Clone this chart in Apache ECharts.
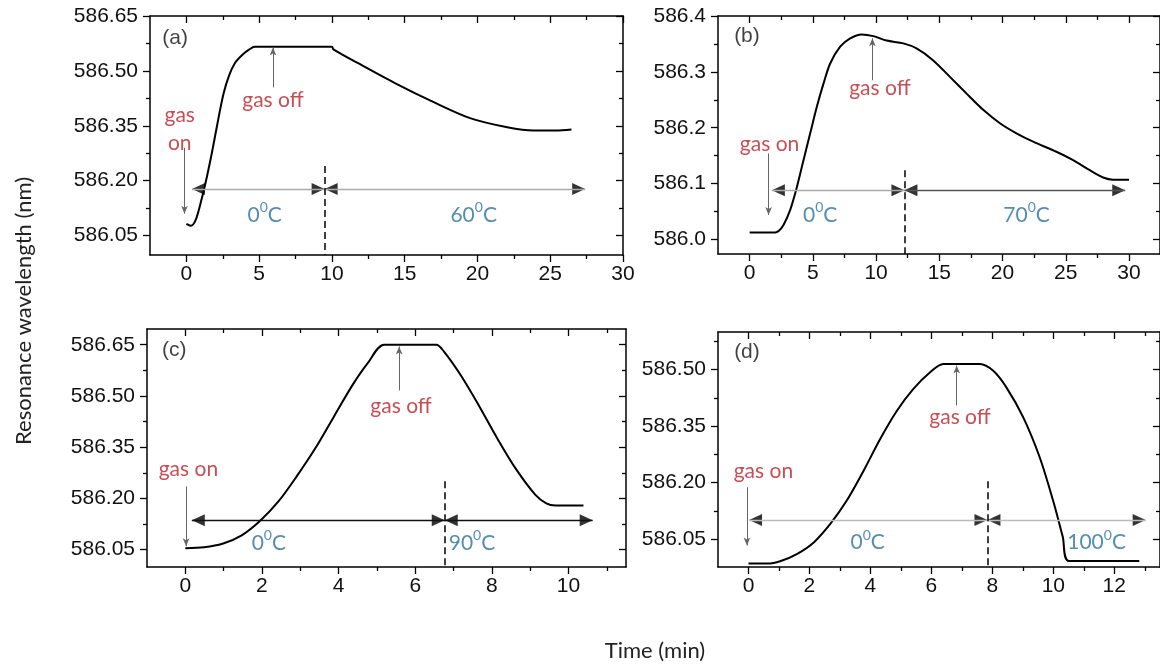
<!DOCTYPE html>
<html>
<head>
<meta charset="utf-8">
<script src="https://cdn.jsdelivr.net/npm/echarts@6/dist/echarts.min.js"></script>
<style>
html,body{margin:0;padding:0;background:#fff;}
#chart{width:1160px;height:666px;}
</style>
</head>
<body>
<div id="chart"></div>
<script>
// ---------- Panel (a) ----------
const aTime = [0, 0.3, 0.64, 1.03, 1.41, 1.79, 2.18, 2.56, 2.95, 3.33, 3.85, 4.3, 4.7, 10.0, 10.1, 11.8, 14.36, 16.92, 19.49, 22.05, 23.85, 25.4, 26.46];
const aWave = [586.082, 586.077, 586.093, 586.147, 586.211, 586.284, 586.366, 586.439, 586.489, 586.521, 586.544, 586.558, 586.566, 586.566, 586.559, 586.521, 586.466, 586.416, 586.371, 586.346, 586.337, 586.337, 586.34];
const aXTicks = [0, 5, 10, 15, 20, 25, 30];
const aXMinor = [2.5, 7.5, 12.5, 17.5, 22.5, 27.5];
const aYTicks = [586.05, 586.20, 586.35, 586.50, 586.65];
const aYMinor = [586.125, 586.275, 586.425, 586.575];
const aRedText = ['gas\non', 'gas off'];
const aRedX = [-0.46, 5.95];
const aRedY = [586.341, 586.42];
const aTempText = ['0', '60'];
const aTempX = [5.38, 19.74];
const aTempY = [586.111, 586.111];
const aOnArrow = [-0.13, 586.29, 586.11];
const aOffArrow = [5.95, 586.455, 586.564];
const aSpanX = [0.38, 9.5, 27.4];
const aSpanY = 586.1775;
const aDashTop = 586.24;

// ---------- Panel (b) ----------
const bTime = [0, 2.03, 2.29, 2.68, 3.21, 3.74, 4.26, 4.79, 5.32, 5.84, 6.37, 7.16, 7.95, 8.87, 9.79, 10.84, 12.16, 13.2, 14.5, 15.84, 17.16, 18.47, 19.79, 21.1, 22.42, 24.26, 25.58, 26.9, 27.95, 28.74, 30];
const bWave = [586.0125, 586.0125, 586.015, 586.026, 586.053, 586.094, 586.142, 586.19, 586.238, 586.279, 586.315, 586.345, 586.36, 586.367, 586.364, 586.356, 586.351, 586.342, 586.321, 586.291, 586.261, 586.232, 586.208, 586.19, 586.175, 586.157, 586.142, 586.124, 586.111, 586.107, 586.107];
const bXTicks = [0, 5, 10, 15, 20, 25, 30];
const bXMinor = [2.5, 7.5, 12.5, 17.5, 22.5, 27.5];
const bYTicks = [586.0, 586.1, 586.2, 586.3, 586.4];
const bYMinor = [586.05, 586.15, 586.25, 586.35];
const bRedText = ['gas on', 'gas off'];
const bRedX = [1.58, 10.3];
const bRedY = [586.171, 586.27];
const bTempText = ['0', '70'];
const bTempX = [5.58, 21.9];
const bTempY = [586.047, 586.047];
const bOnArrow = [1.5, 586.154, 586.044];
const bOffArrow = [9.71, 586.285, 586.36];
const bSpanX = [1.76, 12.24, 29.7];
const bSpanY = 586.088;
const bDashTop = 586.124;

// ---------- Panel (c) ----------
const cTime = [0, 0.49, 0.97, 1.46, 1.94, 2.43, 2.91, 3.40, 3.88, 4.37, 4.76, 5.19, 6.55, 6.75, 7.18, 7.67, 8.16, 8.64, 9.13, 9.42, 9.66, 10.39];
const cWave = [586.054, 586.057, 586.067, 586.091, 586.133, 586.191, 586.265, 586.348, 586.44, 586.533, 586.596, 586.65, 586.65, 586.63, 586.562, 586.47, 586.372, 586.284, 586.211, 586.185, 586.179, 586.179];
const cXTicks = [0, 2, 4, 6, 8, 10];
const cXMinor = [1, 3, 5, 7, 9, 11];
const cYTicks = [586.05, 586.20, 586.35, 586.50, 586.65];
const cYMinor = [586.125, 586.275, 586.425, 586.575];
const cRedText = ['gas on', 'gas off'];
const cRedX = [0.08, 5.63];
const cRedY = [586.284, 586.471];
const cTempText = ['0', '90'];
const cTempX = [2.18, 7.48];
const cTempY = [586.074, 586.074];
const cOnArrow = [0.02, 586.235, 586.06];
const cOffArrow = [5.58, 586.516, 586.645];
const cSpanX = [0.17, 6.77, 10.63];
const cSpanY = 586.136;
const cDashTop = 586.25;

// ---------- Panel (d) ----------
const dTime = [0, 0.62, 1.06, 1.6, 2.15, 2.69, 3.23, 3.78, 4.32, 4.87, 5.41, 5.96, 6.39, 7.59, 8.03, 8.46, 9.01, 9.55, 9.99, 10.31, 10.51, 12.82];
const dWave = [585.985, 585.985, 585.992, 586.011, 586.042, 586.091, 586.153, 586.232, 586.316, 586.391, 586.449, 586.493, 586.515, 586.515, 586.497, 586.453, 586.374, 586.268, 586.153, 586.056, 585.992, 585.992];
const dXTicks = [0, 2, 4, 6, 8, 10, 12];
const dXMinor = [1, 3, 5, 7, 9, 11, 13];
const dYTicks = [586.05, 586.20, 586.35, 586.50];
const dYMinor = [586.125, 586.275, 586.425, 586.575];
const dRedText = ['gas on', 'gas off'];
const dRedX = [0.49, 6.94];
const dRedY = [586.229, 586.374];
const dTempText = ['0', '100'];
const dTempX = [3.91, 11.42];
const dTempY = [586.046, 586.046];
const dOnArrow = [-0.05, 586.188, 586.033];
const dOffArrow = [6.83, 586.405, 586.511];
const dSpanX = [0.02, 7.84, 13.03];
const dSpanY = 586.101;
const dDashTop = 586.204;

const panelLetters = ['(a)', '(b)', '(c)', '(d)'];
const letterX = [-0.77, -0.21, -0.29, -0.05];
const letterY = [586.589, 586.363, 586.635, 586.546];

const RED = '#b8222b';
const TEAL = '#2a719b';
const NUMFONT = 'Liberation Sans, Arial, sans-serif';
const TXTFONT = 'Lato, sans-serif';

const panels = [
  {time:aTime, wave:aWave, xT:aXTicks, xM:aXMinor, yT:aYTicks, yM:aYMinor, xMin:-2.5, xMax:30, yMin:585.997, yMax:586.65, yDec:2,
   grid:{left:150, top:16, width:473, height:239}, red:[aRedText,aRedX,aRedY], temp:[aTempText,aTempX,aTempY],
   on:aOnArrow, off:aOffArrow, spanX:aSpanX, spanY:aSpanY, dashTop:aDashTop, spanColors:['#aaaaaa','#aaaaaa']},
  {time:bTime, wave:bWave, xT:bXTicks, xM:bXMinor, yT:bYTicks, yM:bYMinor, xMin:-2.5, xMax:32.45, yMin:585.974, yMax:586.4, yDec:1,
   grid:{left:718, top:16, width:443, height:238}, red:[bRedText,bRedX,bRedY], temp:[bTempText,bTempX,bTempY],
   on:bOnArrow, off:bOffArrow, spanX:bSpanX, spanY:bSpanY, dashTop:bDashTop, spanColors:['#aaaaaa','#555555']},
  {time:cTime, wave:cWave, xT:cXTicks, xM:cXMinor, yT:cYTicks, yM:cYMinor, xMin:-1, xMax:11.5, yMin:585.999, yMax:586.696, yDec:2,
   grid:{left:147, top:329, width:479, height:238}, red:[cRedText,cRedX,cRedY], temp:[cTempText,cTempX,cTempY],
   on:cOnArrow, off:cOffArrow, spanX:cSpanX, spanY:cSpanY, dashTop:cDashTop, spanColors:['#111111','#111111']},
  {time:dTime, wave:dWave, xT:dXTicks, xM:dXMinor, yT:dYTicks, yM:dYMinor, xMin:-1, xMax:13.5, yMin:585.976, yMax:586.6, yDec:2,
   grid:{left:718, top:332, width:443, height:235}, red:[dRedText,dRedX,dRedY], temp:[dTempText,dTempX,dTempY],
   on:dOnArrow, off:dOffArrow, spanX:dSpanX, spanY:dSpanY, dashTop:dDashTop, spanColors:['#bbbbbb','#bbbbbb']}
];

const grids = [], xAxes = [], yAxes = [], series = [];
const axLine = {color:'#000', width:1.5};

function makeAxis(kind, gi, pos, min, max, ticks, inside, len, showLine, showLabel, fmt) {
  return {
    type:'value', gridIndex:gi, position:pos, min:min, max:max,
    axisLine:{show:showLine, onZero:false, lineStyle:axLine},
    axisTick:{show:true, inside:inside, length:len, customValues:ticks, lineStyle:{color:'#000', width:1.3}},
    axisLabel:{show:showLabel, customValues:ticks, formatter:fmt, color:'#111', fontSize:21, fontFamily:NUMFONT,
               margin: kind === 'x' ? 9 : 12},
    splitLine:{show:false}, minorTick:{show:false}
  };
}

const HEAD = [12, 13];

panels.forEach((p, i) => {
  grids.push(Object.assign({containLabel:false}, p.grid));
  const xf = v => String(Math.round(v));
  const yf = v => v.toFixed(p.yDec);
  const xb = xAxes.length, yb = yAxes.length;
  xAxes.push(makeAxis('x', i, 'bottom', p.xMin, p.xMax, p.xT, false, 7, true, true, xf));
  xAxes.push(makeAxis('x', i, 'bottom', p.xMin, p.xMax, p.xM, false, 4, false, false, xf));
  xAxes.push(makeAxis('x', i, 'top', p.xMin, p.xMax, p.xT, true, 7, true, false, xf));
  xAxes.push(makeAxis('x', i, 'top', p.xMin, p.xMax, p.xM, true, 4, false, false, xf));
  yAxes.push(makeAxis('y', i, 'left', p.yMin, p.yMax, p.yT, false, 7, true, true, yf));
  yAxes.push(makeAxis('y', i, 'left', p.yMin, p.yMax, p.yM, false, 4, false, false, yf));
  yAxes.push(makeAxis('y', i, 'right', p.yMin, p.yMax, p.yT, true, 7, true, false, yf));
  yAxes.push(makeAxis('y', i, 'right', p.yMin, p.yMax, p.yM, true, 4, false, false, yf));

  const sx = p.spanX, sy = p.spanY;
  const ml = [
    [{coord:[p.on[0], p.on[1]], symbol:'none', lineStyle:{color:'#666', width:1, type:'solid'}},
     {coord:[p.on[0], p.on[2]], symbol:'arrow', symbolSize:[5, 8]}],
    [{coord:[p.off[0], p.off[1]], symbol:'none', lineStyle:{color:'#666', width:1, type:'solid'}},
     {coord:[p.off[0], p.off[2]], symbol:'arrow', symbolSize:[5, 8]}],
    [{coord:[sx[0], sy], symbol:'none', lineStyle:{color:p.spanColors[0], width:1.3, type:'solid'}},
     {coord:[sx[1], sy], symbol:'none'}],
    [{coord:[sx[1], sy], symbol:'none', lineStyle:{color:p.spanColors[1], width:1.3, type:'solid'}},
     {coord:[sx[2], sy], symbol:'none'}],
    [{coord:[sx[1], p.dashTop], symbol:'none', lineStyle:{color:'#000', width:1.5, type:[7, 4]}},
     {coord:[sx[1], p.yMin], symbol:'none'}]
  ];

  series.push({
    type:'line', xAxisIndex:xb, yAxisIndex:yb,
    data:p.time.map((t, k) => [t, p.wave[k]]),
    showSymbol:false, smooth:0.3,
    lineStyle:{color:'#000', width:2}, animation:false, silent:true, z:3,
    markLine:{silent:true, animation:false, symbol:'none', label:{show:false}, data:ml}
  });

  series.push({
    type:'scatter', xAxisIndex:xb, yAxisIndex:yb, silent:true, animation:false, z:4,
    symbol:'triangle', symbolSize:HEAD, itemStyle:{color:'#000'},
    data:[
      {value:[sx[0], sy], symbolRotate:90, symbolOffset:[HEAD[1] / 2, 0]},
      {value:[sx[1], sy], symbolRotate:-90, symbolOffset:[-HEAD[1] / 2, 0]},
      {value:[sx[1], sy], symbolRotate:90, symbolOffset:[HEAD[1] / 2, 0]},
      {value:[sx[2], sy], symbolRotate:-90, symbolOffset:[-HEAD[1] / 2, 0]}
    ]
  });

  const txt = [];
  p.red[0].forEach((t, k) => txt.push({value:[p.red[1][k], p.red[2][k]],
    label:{formatter:t, color:RED, fontFamily:TXTFONT, fontSize:21, lineHeight:28}}));
  p.temp[0].forEach((t, k) => txt.push({value:[p.temp[1][k], p.temp[2][k]],
    label:{formatter:'{n|' + t + '}{s|0}{n|C}'}}));
  txt.push({value:[letterX[i], letterY[i]], label:{formatter:panelLetters[i], color:'#111', fontFamily:NUMFONT, fontSize:21}});
  series.push({
    type:'scatter', xAxisIndex:xb, yAxisIndex:yb, silent:true, animation:false, z:5,
    symbolSize:1, itemStyle:{color:'rgba(0,0,0,0)'},
    label:{show:true, position:'inside', align:'center', verticalAlign:'middle',
      rich:{
        n:{fontSize:21, fontFamily:TXTFONT, color:TEAL, verticalAlign:'bottom', lineHeight:25},
        s:{fontSize:14, fontFamily:TXTFONT, color:TEAL, verticalAlign:'top', lineHeight:25}
      }},
    data:txt
  });
});

const chart = echarts.init(document.getElementById('chart'), null, {renderer:'canvas'});
chart.setOption({
  backgroundColor:'#fff',
  animation:false,
  grid:grids, xAxis:xAxes, yAxis:yAxes, series:series,
  graphic:[
    {type:'text', x:24, y:311, rotation:Math.PI/2, silent:true,
     style:{text:'Resonance wavelength (nm)', fill:'#222', font:'22px Lato, sans-serif', align:'center', verticalAlign:'middle'}},
    {type:'text', x:655, y:651, silent:true,
     style:{text:'Time (min)', fill:'#222', font:'22px Lato, sans-serif', align:'center', verticalAlign:'middle'}}
  ]
});
</script>
</body>
</html>
